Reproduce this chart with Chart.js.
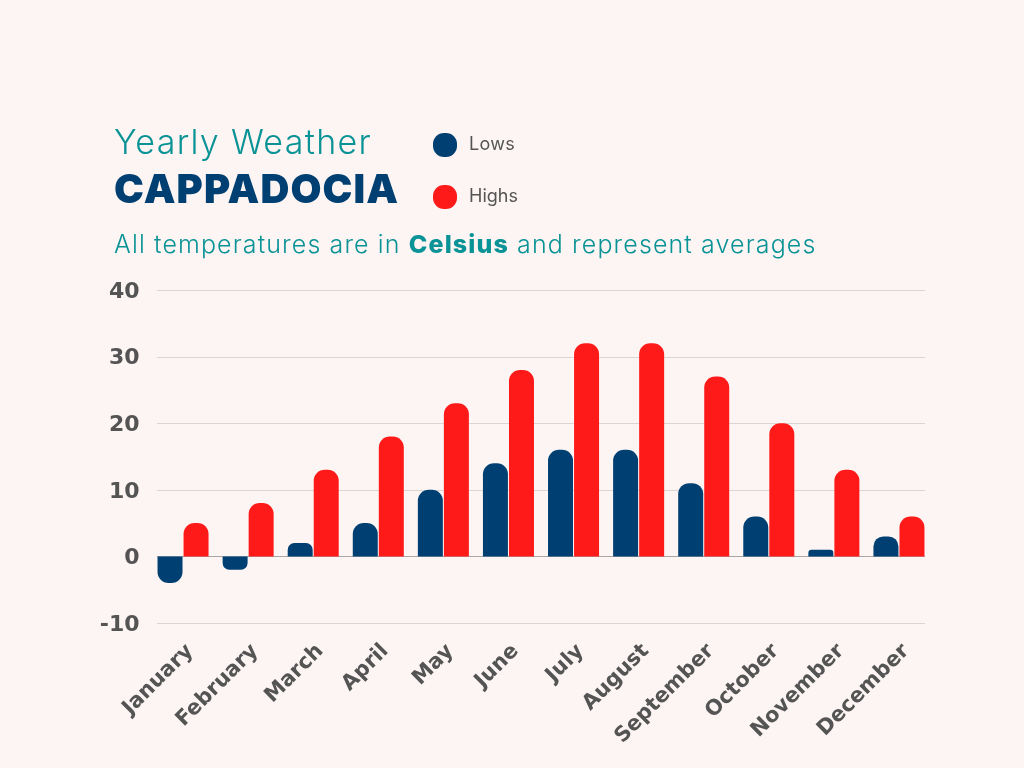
<!DOCTYPE html>
<html>
<head>
<meta charset="utf-8">
<style>
  html, body { margin: 0; padding: 0; background: #fdf5f3; }
  #wrap { position: relative; width: 1024px; height: 768px; overflow: hidden; }
  #chart { position: absolute; left: 0; top: 0; }
  .t { position: absolute; white-space: nowrap; font-family: Inter, sans-serif; line-height: 1; }
  .dot { position: absolute; width: 24px; height: 24px; border-radius: 11px; }
</style>
</head>
<body>
<div id="wrap">
  <canvas id="chart" width="1024" height="768"></canvas>
  <div class="t" style="left:114px;top:125px;font-size:34px;font-weight:300;letter-spacing:1.3px;color:#0a9396;">Yearly Weather</div>
  <div class="t" style="left:114px;top:169px;font-size:40px;font-weight:900;letter-spacing:1.1px;color:#003f72;">CAPPADOCIA</div>
  <div class="t" style="left:114px;top:232px;font-size:25px;font-weight:300;letter-spacing:1.12px;color:#0a9396;">All temperatures are in <b style="font-weight:800">Celsius</b> and represent averages</div>
  <div class="dot" style="left:433px;top:133px;background:#003f72;"></div>
  <div class="t" style="left:469px;top:135px;font-size:18px;letter-spacing:0.3px;color:#545454;">Lows</div>
  <div class="dot" style="left:433px;top:185px;background:#ff1a1a;"></div>
  <div class="t" style="left:469px;top:187px;font-size:18px;color:#545454;">Highs</div>
</div>
<script src="https://cdn.jsdelivr.net/npm/chart.js@4"></script>
<script>
var months = ['January','February','March','April','May','June','July','August','September','October','November','December']
var lows = [-4, -2, 2, 5, 10, 14, 16, 16, 11, 6, 1, 3]
var highs = [5, 8, 13, 18, 23, 28, 32, 32, 27, 20, 13, 6]
var yTicks = [40, 30, 20, 10, 0, -10]

// gridlines stop short of the chart area, so the bars sit flush with both ends
var gridLines = {
    id: 'gridLines',
    beforeDatasetsDraw: function (chart) {
        var c = chart.ctx
        var y = chart.scales.y
        var inset = chart.scales.x.width * 0.1 / 12
        yTicks.forEach(function (v) {
            var py = Math.round(y.getPixelForValue(v)) + 0.5
            c.save()
            c.strokeStyle = v === 0 ? '#a9a7a6' : '#d9d6d4'
            c.lineWidth = 1
            c.beginPath()
            c.moveTo(chart.chartArea.left + inset, py)
            c.lineTo(chart.chartArea.right - inset, py)
            c.stroke()
            c.restore()
        })
    }
}

const ctx = document.getElementById('chart').getContext('2d');
var myChart = new Chart(ctx, {
    type: 'bar',
    plugins: [gridLines],
    data: {
        labels: months,
        datasets: [{
            label: 'Lows',
            data: lows,
            backgroundColor: '#003f72',
            borderRadius: 11,
            borderSkipped: 'start',
            categoryPercentage: 0.8,
            barPercentage: 0.96
        }, {
            label: 'Highs',
            data: highs,
            backgroundColor: '#ff1a1a',
            borderRadius: 11,
            borderSkipped: 'start',
            categoryPercentage: 0.8,
            barPercentage: 0.96
        }]
    },
    options: {
        responsive: false,
        animation: false,
        layout: { padding: { left: 0, right: 92.5, top: 290, bottom: 0 } },
        plugins: { legend: { display: false }, title: { display: false }, tooltip: { enabled: false } },
        scales: {
            x: {
                grid: { display: false },
                border: { display: false },
                afterFit: function (axis) { axis.height = 145 },
                ticks: {
                    color: '#545454',
                    font: { family: 'DejaVu Sans', size: 21, weight: 'bold' },
                    maxRotation: 45,
                    minRotation: 45,
                    padding: 8,
                    labelOffset: 7
                }
            },
            y: {
                min: -10,
                max: 40,
                afterFit: function (axis) { axis.width = 150.5 },
                afterBuildTicks: function (axis) {
                    axis.ticks = yTicks.map(function (v) { return { value: v } })
                },
                grid: { display: false },
                border: { display: false },
                ticks: {
                    color: '#545454',
                    padding: 3,
                    labelOffset: 2,
                    font: { family: 'DejaVu Sans', size: 22, weight: 'bold' }
                }
            }
        }
    }
});
</script>
</body>
</html>
